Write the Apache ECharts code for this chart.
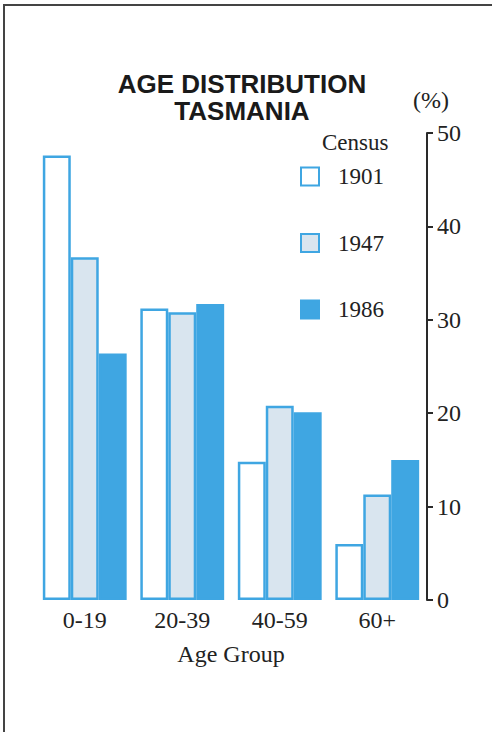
<!DOCTYPE html>
<html>
<head>
<meta charset="utf-8">
<script src="https://cdn.jsdelivr.net/npm/echarts@6/dist/echarts.min.js"></script>
<style>
  html, body { margin: 0; padding: 0; background: #fff; }
  #chart { width: 492px; height: 732px; }
</style>
</head>
<body>
<div id="chart"></div>
<script>
var ageGroups = ['0-19', '20-39', '40-59', '60+'];
var census1901 = [47.6, 31.2, 14.8, 6.0];
var census1947 = [36.7, 30.8, 20.8, 11.3];
var census1986 = [26.4, 31.7, 20.1, 15.0];
var yTicks = [0, 10, 20, 30, 40, 50];

var blue = '#3fa6e2';
var pale = '#d9e5ef';
var ink = '#222';
var serif = 'Liberation Serif';

var chart = echarts.init(document.getElementById('chart'), null, { renderer: 'svg' });
chart.setOption({
  animation: false,
  backgroundColor: '#fff',
  title: [
    {
      text: 'AGE DISTRIBUTION\nTASMANIA',
      left: 237, top: 65, textAlign: 'center',
      textStyle: { fontFamily: 'Liberation Sans', fontWeight: 'bold', fontSize: 26, lineHeight: 27, color: '#1a1a1a' }
    },
    {
      text: 'Census',
      left: 322, top: 131, padding: 0,
      textStyle: { fontFamily: serif, fontWeight: 'normal', fontSize: 23, color: ink }
    }
  ],
  legend: {
    orient: 'vertical',
    left: 300, top: 165, padding: 0,
    itemWidth: 18, itemHeight: 18, itemGap: 43.5,
    icon: 'rect',
    textStyle: { fontFamily: serif, fontSize: 23, lineHeight: 18, color: ink, padding: [0, 0, 0, 14] },
    data: ['1901', '1947', '1986']
  },
  grid: { left: 36, right: 66, top: 133, bottom: 132 },
  xAxis: {
    type: 'category',
    data: ageGroups,
    name: 'Age Group',
    nameLocation: 'middle',
    nameGap: 42,
    nameTextStyle: { fontFamily: serif, fontSize: 24, color: ink },
    axisLine: { show: false },
    axisTick: { show: false },
    axisLabel: { fontFamily: serif, fontSize: 24, color: ink, margin: 8 }
  },
  yAxis: {
    type: 'value',
    position: 'right',
    offset: 1,
    min: yTicks[0], max: yTicks[yTicks.length - 1], interval: 10,
    name: '(%)',
    nameLocation: 'end',
    nameGap: 21,
    nameTextStyle: { fontFamily: serif, fontSize: 24, color: ink, padding: [0, 0, 0, 8] },
    axisLine: { show: true, lineStyle: { color: '#2a2a2a', width: 2 } },
    axisTick: { show: true, length: 6, lineStyle: { color: '#2a2a2a', width: 2 } },
    axisLabel: { fontFamily: serif, fontSize: 24, color: ink, margin: 10 },
    splitLine: { show: false }
  },
  series: [
    {
      name: '1901', type: 'bar', data: census1901,
      barGap: '0%', barCategoryGap: '14%',
      itemStyle: { color: '#fff', borderColor: blue, borderWidth: 2.5 }
    },
    {
      name: '1947', type: 'bar', data: census1947,
      itemStyle: { color: pale, borderColor: blue, borderWidth: 2.5 }
    },
    {
      name: '1986', type: 'bar', data: census1986,
      itemStyle: { color: blue, borderColor: blue, borderWidth: 2.5 }
    }
  ],
  graphic: [
    {
      type: 'polyline',
      shape: { points: [[4, 732], [4, 5], [492, 5]] },
      style: { stroke: '#444', lineWidth: 2, fill: null }
    }
  ]
});
</script>
</body>
</html>
